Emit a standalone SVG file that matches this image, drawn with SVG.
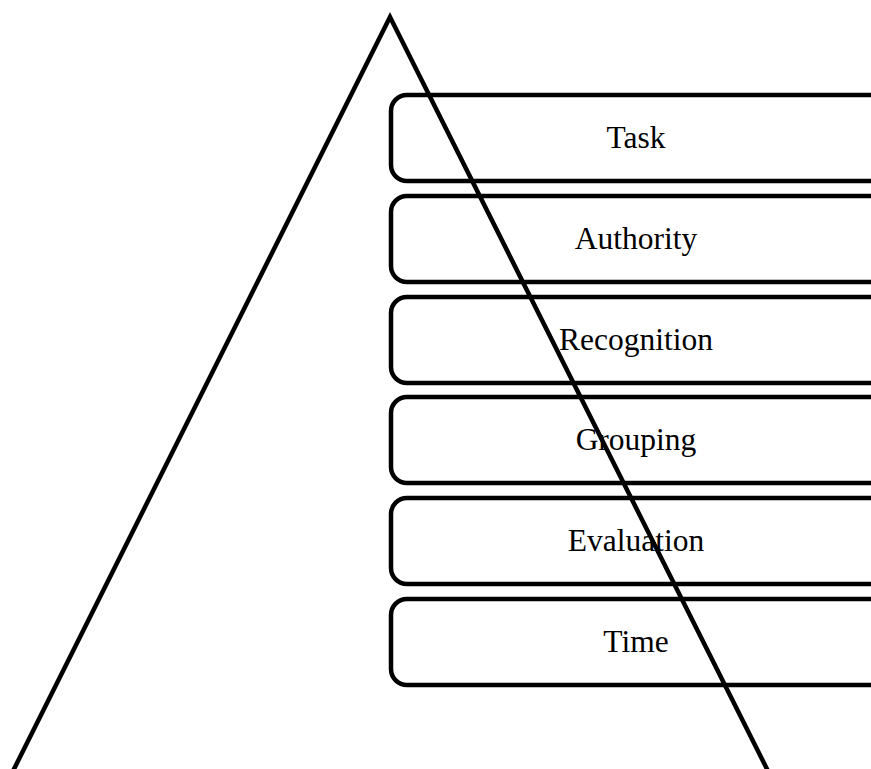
<svg xmlns="http://www.w3.org/2000/svg" width="871" height="769" viewBox="0 0 871 769">
<style>
.box{fill:none;stroke:#000;stroke-width:4.5}
.lbl{font-family:"Liberation Serif","Times New Roman",serif;font-size:31.5px;fill:#000;text-anchor:middle}
.tri{fill:none;stroke:#000;stroke-width:4.5;stroke-linejoin:miter}
</style>
<rect width="871" height="769" fill="#fff"/>
<g id="connectors">
<polyline class="tri" points="10,777 390,17 771,777"/>
</g>
<g id="task"><rect class="box" x="391" y="95" width="500" height="86" rx="16"/><text class="lbl" x="636" y="148">Task</text></g>
<g id="authority"><rect class="box" x="391" y="196" width="500" height="86" rx="16"/><text class="lbl" x="636" y="249">Authority</text></g>
<g id="recognition"><rect class="box" x="391" y="297" width="500" height="86" rx="16"/><text class="lbl" x="636" y="350">Recognition</text></g>
<g id="grouping"><rect class="box" x="391" y="397" width="500" height="86" rx="16"/><text class="lbl" x="636" y="450">Grouping</text></g>
<g id="evaluation"><rect class="box" x="391" y="498" width="500" height="86" rx="16"/><text class="lbl" x="636" y="551">Evaluation</text></g>
<g id="time"><rect class="box" x="391" y="599" width="500" height="86" rx="16"/><text class="lbl" x="636" y="652">Time</text></g>
</svg>
